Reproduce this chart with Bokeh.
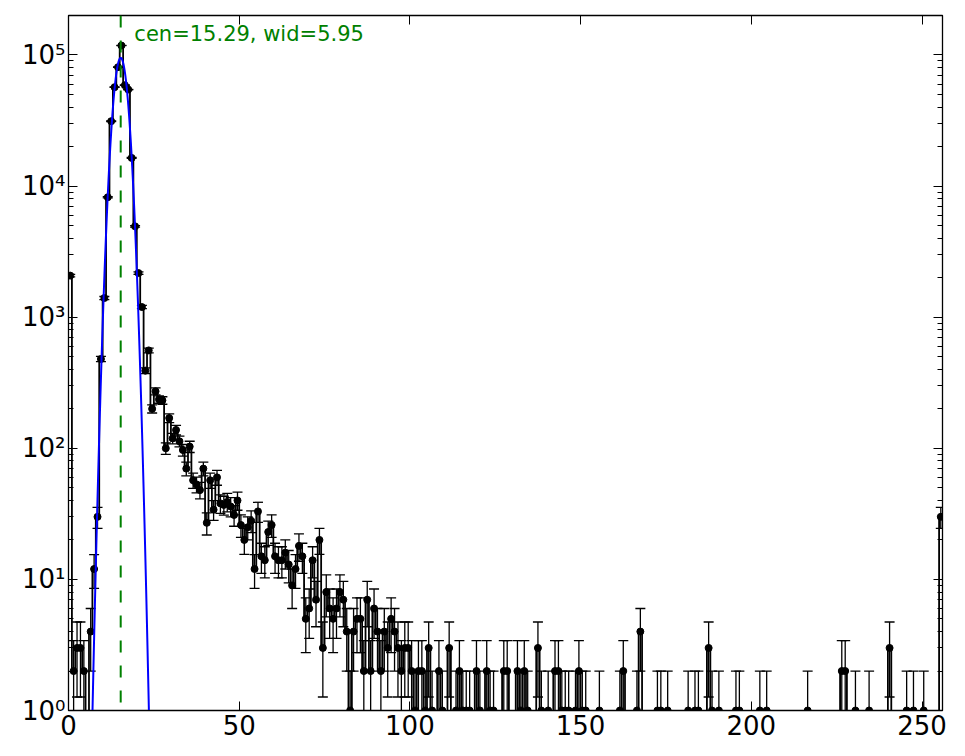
import numpy as np
from bokeh.plotting import figure
from bokeh.models import Range1d, FixedTicker, LogAxis, LinearAxis, CustomJSTickFormatter, Span
from bokeh.core.properties import value
from bokeh.embed import file_html
from bokeh.resources import INLINE

# ---- data: counts per channel (256 channels) ----
counts_0_21 = [2075, 2, 3, 3, 2, 0, 4, 12, 30, 480, 1400, 8220, 31250, 56800,
               80700, 118000, 58800, 54500, 16400, 4930, 2170, 1195]
counts_22_61 = [391, 558, 200, 272, 236, 232, 100, 170, 119, 138, 113, 97, 70, 103,
                57, 53, 48, 70, 27, 57, 34, 60, 38, 37, 39, 36, 31, 40, 26, 20,
                25, 28, 12, 33, 15, 14, 23, 26, 15, 14]
counts_62_105 = [14, 16, 13, 9, 12, 18, 15, 5, 6, 14, 7, 20, 3, 8, 6, 5, 6, 8, 7, 4,
                 1, 4, 5, 5, 2, 7, 2, 6, 4, 2, 4, 3, 5, 4, 3, 2, 3, 3, 2, 1, 2, 2, 1, 3]
# sparse tail: channel -> count (all other channels 106..255 are zero)
tail_counts = {106: 1, 108: 2, 109: 1, 111: 3, 113: 1, 114: 2, 115: 1, 116: 1, 117: 1,
               119: 2, 120: 1, 122: 2, 123: 1, 124: 1, 127: 2, 128: 2, 131: 2, 132: 1,
               133: 2, 134: 1, 137: 3, 138: 1, 140: 1, 142: 2, 143: 2, 144: 1, 145: 1,
               146: 1, 148: 1, 149: 2, 150: 1, 151: 1, 155: 1, 161: 1, 162: 2, 166: 1,
               167: 4, 172: 1, 173: 1, 175: 1, 181: 1, 183: 1, 184: 1, 187: 3, 188: 1,
               190: 1, 195: 1, 196: 1, 202: 1, 204: 1, 216: 1, 226: 2, 227: 2, 230: 1,
               234: 1, 240: 3, 245: 1, 247: 1, 250: 1, 255: 30}

fit_cen = 15.29
fit_wid = 5.95
fit_amp = 95000.0

x_tick_values = [0, 50, 100, 150, 200, 250]
y_decades = [0, 1, 2, 3, 4, 5]

# ---- assemble ----
n_chan = 256
counts = np.zeros(n_chan)
head = counts_0_21 + counts_22_61 + counts_62_105
counts[:len(head)] = head
for ch, c in tail_counts.items():
    counts[ch] = c

xc = np.arange(n_chan) + 0.5
floor_val = 1e-2
nz = counts > 0
err = np.sqrt(counts)
upper = counts + err
lower = counts - err

p = figure(width=956, height=748,
           x_range=Range1d(0, 256), y_range=Range1d(1, 2e5),
           y_axis_type="log", output_backend="svg", toolbar_location=None,
           min_border_left=68, min_border_right=14, min_border_top=15, min_border_bottom=38)
p.grid.visible = False
p.outline_line_color = "black"
p.outline_line_width = 1.3
p.background_fill_color = "white"
p.border_fill_color = "white"

# step histogram line
p.step(xc, np.where(nz, counts, floor_val), mode="center", line_color="black", line_width=1.8)

# error bars
p.segment(x0=xc[nz], y0=np.maximum(lower[nz], floor_val), x1=xc[nz], y1=upper[nz],
          line_color="black", line_width=1.3)
p.scatter(xc[nz], upper[nz], marker="dash", size=10, line_color="black", line_width=1.3)
lm = lower > 0.5
p.scatter(xc[lm], lower[lm], marker="dash", size=10, line_color="black", line_width=1.3)

# points
p.scatter(xc[nz], counts[nz], size=7, fill_color="black", line_color="black")

# gaussian fit
xf = np.linspace(0, 40, 1601)
yf = fit_amp * np.exp(-(xf - fit_cen) ** 2 / fit_wid)
p.line(xf, yf, line_color="blue", line_width=2)

# centre marker
p.add_layout(Span(location=fit_cen, dimension="height", line_color="green",
                  line_dash="12 13", line_width=2))
p.text(x=[fit_cen + 4], y=[counts.max()], text=[f"cen={fit_cen:.2f}, wid={fit_wid:.2f}"],
       text_color="green", text_font_size="21px", text_baseline="bottom", text_align="left",
       text_font=value("DejaVu Sans"))

# axes
y_ticker = FixedTicker(ticks=[10.0 ** d for d in y_decades],
                       minor_ticks=[m * 10.0 ** d for d in y_decades for m in range(2, 10)])
x_ticker = FixedTicker(ticks=x_tick_values, minor_ticks=[])
sup_fmt = CustomJSTickFormatter(code="""
const sup = {"0":"⁰","1":"¹","2":"²","3":"³","4":"⁴","5":"⁵","6":"⁶","7":"⁷","8":"⁸","9":"⁹","-":"⁻"};
const e = Math.round(Math.log10(tick));
return "10" + String(e).split("").map(c => sup[c]).join("");
""")
blank_fmt = CustomJSTickFormatter(code="return '';")


def style(ax, labels=True, minor=True):
    ax.axis_line_color = "black"
    ax.major_tick_in = 9
    ax.major_tick_out = 0
    ax.minor_tick_in = 5 if minor else 0
    ax.minor_tick_out = 0
    ax.major_tick_line_color = "black"
    ax.minor_tick_line_color = "black"
    ax.major_label_text_font = "DejaVu Sans"
    ax.major_label_text_font_size = "26px" if labels else "1px"
    ax.major_label_text_color = "black"


ly = p.yaxis[0]
ly.ticker = y_ticker
ly.formatter = sup_fmt
ly.major_label_standoff = 3
style(ly)

bx = p.xaxis[0]
bx.ticker = x_ticker
bx.major_label_standoff = 4
style(bx, minor=False)

ry = LogAxis(ticker=y_ticker, formatter=blank_fmt, major_label_standoff=0)
style(ry, labels=False)
p.add_layout(ry, "right")

tx = LinearAxis(ticker=x_ticker, formatter=blank_fmt, major_label_standoff=0)
style(tx, labels=False, minor=False)
p.add_layout(tx, "above")

open("out.html", "w").write(file_html(p, INLINE))
